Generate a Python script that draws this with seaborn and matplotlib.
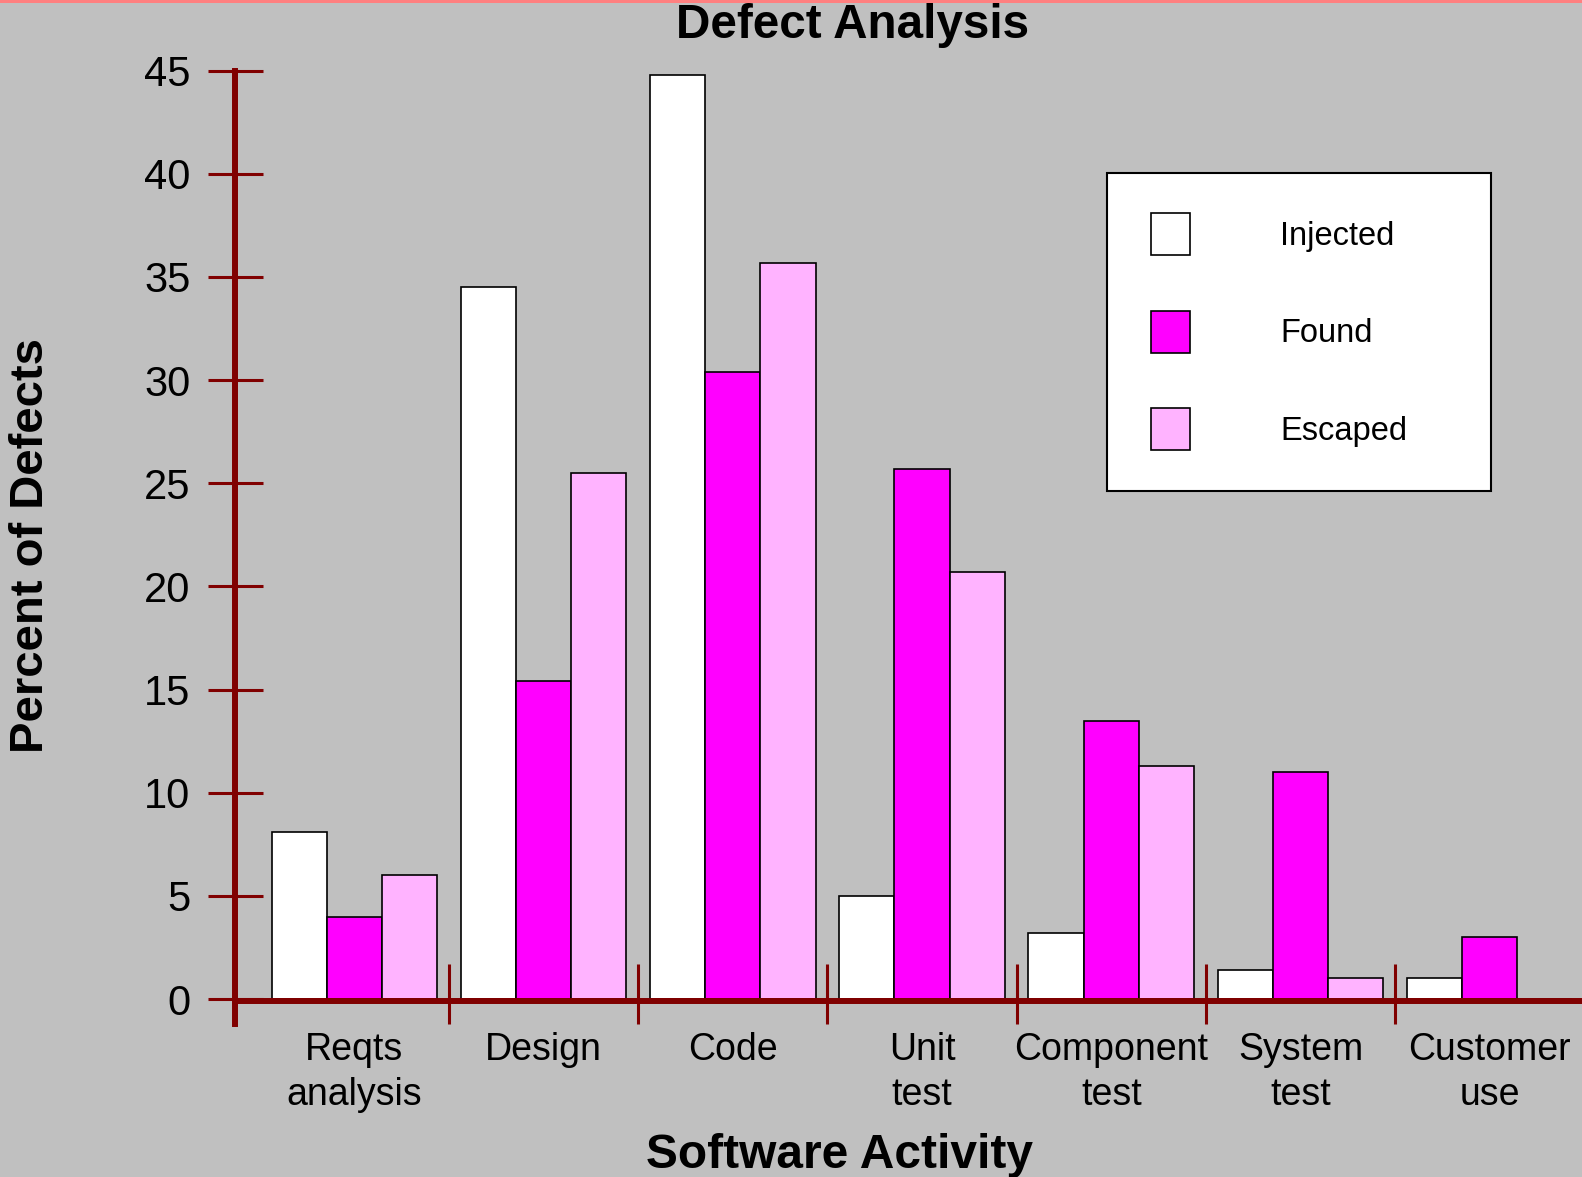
import numpy as np
import pandas as pd
import matplotlib
matplotlib.use("Agg")
import matplotlib.pyplot as plt
from matplotlib.patches import Patch, Rectangle
import seaborn as sns

# ---- data -------------------------------------------------------------
activities = ["Reqts\nanalysis", "Design", "Code", "Unit\ntest",
              "Component\ntest", "System\ntest", "Customer\nuse"]
series = ["Injected", "Found", "Escaped"]
injected = [8.1, 34.5, 44.8, 5.0, 3.2, 1.4, 1.0]
found = [4.0, 15.4, 30.4, 25.7, 13.5, 11.0, 3.0]
escaped = [6.0, 25.5, 35.7, 20.7, 11.3, 1.0, 0.0]
y_ticks = [0, 5, 10, 15, 20, 25, 30, 35, 40, 45]

# ---- style ------------------------------------------------------------
BG = "#c0c0c0"
DARK = "#800000"
colors = {"Injected": "#ffffff", "Found": "#ff00ff", "Escaped": "#ffb3ff"}
plt.rcParams["font.family"] = ["Liberation Sans", "DejaVu Sans"]

df = pd.DataFrame({
    "activity": np.repeat(activities, len(series)),
    "series": series * len(activities),
    "percent": np.ravel(np.column_stack([injected, found, escaped])),
})

W, H = 1582, 1177
fig = plt.figure(figsize=(W / 100, H / 100), dpi=100)
fig.patch.set_facecolor(BG)
ax = fig.add_axes([234.5 / W, 1 - 1024 / H, 1 - 234.5 / W, (1024 - 70.7) / H])
ax.set_facecolor(BG)

sns.barplot(data=df, x="activity", y="percent", hue="series",
            order=activities, hue_order=series, palette=colors,
            saturation=1, width=0.875, gap=0, edgecolor="black",
            linewidth=1.2, errorbar=None, legend=False, ax=ax, zorder=2)

ax.set_xlabel("")
ax.set_ylabel("")
ax.set_xlim(-0.634, 6.488)
ax.set_ylim(-1.21, 45)

# axes lines
for side in ("top", "right"):
    ax.spines[side].set_visible(False)
ax.spines["left"].set_color(DARK)
ax.spines["left"].set_linewidth(4.3)
ax.spines["bottom"].set_position(("data", -0.1))
ax.spines["bottom"].set_color(DARK)
ax.spines["bottom"].set_linewidth(4.3)
ax.spines["left"].set_zorder(3)
ax.spines["bottom"].set_zorder(3)

ax.set_yticks(y_ticks)
ax.tick_params(axis="y", direction="inout", length=39.6, width=2.2,
               color=DARK, labelsize=30, pad=12)
ax.tick_params(axis="x", length=0, labelsize=27, pad=22)
for lab in ax.get_xticklabels():
    lab.set_linespacing(1.35)

# group separators on the category axis
ax.vlines(np.arange(0.5, len(activities) - 1), -1.21, 1.70, colors=DARK,
          linewidth=2.2, clip_on=False, zorder=3)

# legend with its own box
box = Rectangle((1107 / W, 1 - 491 / H), (1491 - 1107) / W, (491 - 173) / H,
                transform=fig.transFigure, facecolor="white",
                edgecolor="black", linewidth=1.5, zorder=5, clip_on=False)
ax.add_artist(box)
handles = [Patch(facecolor=colors[s], edgecolor="black", linewidth=1.2, label=s)
           for s in series]
leg = ax.legend(handles=handles, loc="upper left",
                bbox_to_anchor=(1151 / W, 1 - 213 / H),
                bbox_transform=fig.transFigure, frameon=False,
                borderpad=0, borderaxespad=0, handlelength=1.2,
                handleheight=1.62, handletextpad=2.75, labelspacing=1.69,
                prop={"size": 23.5})
leg.set_zorder(6)

# titles
fig.text(852.6 / W, 1 - 38.5 / H, "Defect Analysis", ha="center",
         va="baseline", fontsize=34.3, fontweight="bold")
fig.text(839.4 / W, 1 - 1168 / H, "Software Activity", ha="center",
         va="baseline", fontsize=34.5, fontweight="bold")
fig.text(31 / W, 1 - 546 / H, "Percent of Defects", rotation=90,
         ha="center", va="center", fontsize=34, fontweight="bold")

# thin accent stripe along the top edge
fig.add_artist(Rectangle((0, 1 - 3 / H), 1, 3 / H, transform=fig.transFigure,
                         facecolor="#ff8080", edgecolor="none", zorder=10))

fig.savefig("out.png", dpi=100, facecolor=BG)
